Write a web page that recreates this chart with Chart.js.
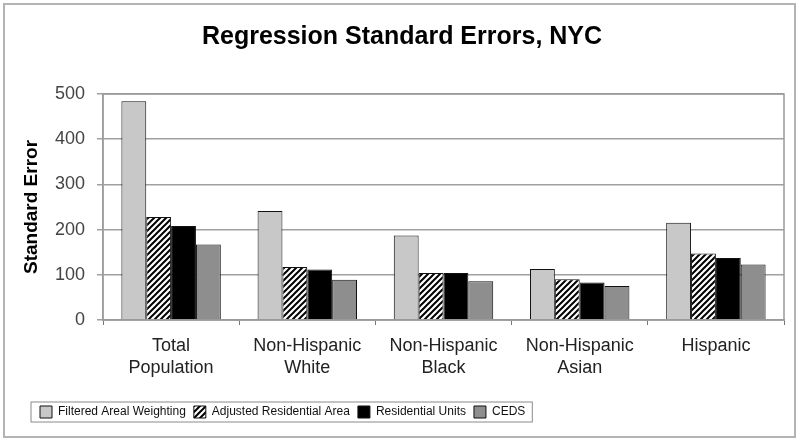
<!DOCTYPE html>
<html lang="en">
<head>
    <meta charset="UTF-8">
    <title>Regression Standard Errors, NYC</title>
    <script src="https://cdn.jsdelivr.net/npm/chart.js"></script>
    <style>
        html, body { margin: 0; padding: 0; background: #fff; }
        .chart-box { position: relative; width: 800px; height: 441px; }
    </style>
</head>
<body>
    <div class="chart-box">
        <canvas id="seChart" width="800" height="441"></canvas>
    </div>
    <script>
        // data
        const categories = [
            ['Total', 'Population'],
            ['Non-Hispanic', 'White'],
            ['Non-Hispanic', 'Black'],
            ['Non-Hispanic', 'Asian'],
            ['Hispanic']
        ];
        const seriesNames = ['Filtered Areal Weighting', 'Adjusted Residential Area', 'Residential Units', 'CEDS'];
        const filteredAreal = [484, 241, 187, 113, 215];
        const adjustedResidential = [228, 117, 104, 90, 147];
        const residentialUnits = [208, 112, 104, 83, 137];
        const cedsValues = [167, 89, 86, 75, 123];
        const yTicks = [0, 100, 200, 300, 400, 500];

        const FONT = '"Liberation Sans", Arial, sans-serif';

        // diagonal hatch for "Adjusted Residential Area"
        function makeHatch() {
            const c = document.createElement('canvas');
            c.width = 6; c.height = 6;
            const g = c.getContext('2d');
            g.fillStyle = '#fff';
            g.fillRect(0, 0, 6, 6);
            g.strokeStyle = '#000';
            g.lineWidth = 2;
            g.beginPath();
            g.moveTo(0, 6); g.lineTo(6, 0);
            g.moveTo(-1, 1); g.lineTo(1, -1);
            g.moveTo(5, 7); g.lineTo(7, 5);
            g.stroke();
            return g.createPattern(c, 'repeat');
        }
        const hatch = makeHatch();

        // outer frame, plot-area box and legend box
        const framePlugin = {
            id: 'frames',
            afterLayout(chart) {
                // legend sits a little further in than the y axis
                chart.legend.left += 12;
                chart.legend.right += 12;
            },
            beforeDraw(chart) {
                const ctx = chart.ctx;
                ctx.save();
                ctx.fillStyle = '#fff';
                ctx.fillRect(0, 0, chart.width, chart.height);
                ctx.strokeStyle = '#b4b4b4';
                ctx.lineWidth = 2;
                ctx.strokeRect(4, 4, chart.width - 9, chart.height - 8);
                ctx.restore();
            },
            afterDraw(chart) {
                const ctx = chart.ctx;
                const a = chart.chartArea;
                ctx.save();
                ctx.strokeStyle = '#9a9a9a';
                ctx.lineWidth = 1.5;
                ctx.strokeRect(a.left, a.top, a.right - a.left, a.bottom - a.top);
                const boxes = chart.legend.legendHitBoxes;
                if (boxes && boxes.length) {
                    const first = boxes[0], last = boxes[boxes.length - 1];
                    const x0 = first.left - 9;
                    const x1 = last.left + last.width + 7;
                    const y0 = first.top - 4;
                    ctx.strokeStyle = '#8a8a8a';
                    ctx.lineWidth = 1;
                    ctx.strokeRect(x0, y0, x1 - x0, first.height + 8);
                }
                ctx.restore();
            }
        };

        const ctx = document.getElementById('seChart').getContext('2d');
        new Chart(ctx, {
            type: 'bar',
            data: {
                labels: categories,
                datasets: [
                    { label: seriesNames[0], data: filteredAreal, backgroundColor: '#c8c8c8' },
                    { label: seriesNames[1], data: adjustedResidential, backgroundColor: hatch },
                    { label: seriesNames[2], data: residentialUnits, backgroundColor: '#000' },
                    { label: seriesNames[3], data: cedsValues, backgroundColor: '#8e8e8e' }
                ].map(d => Object.assign(d, {
                    borderColor: '#111',
                    borderWidth: 1,
                    categoryPercentage: 0.73,
                    barPercentage: 1.0
                }))
            },
            options: {
                responsive: false,
                animation: false,
                layout: { padding: { left: 20, right: 16, top: 10, bottom: 13 } },
                plugins: {
                    title: {
                        display: true,
                        text: 'Regression Standard Errors, NYC',
                        color: '#000',
                        font: { family: FONT, size: 25, weight: 'bold' },
                        padding: { top: 12, bottom: 42 }
                    },
                    legend: {
                        position: 'bottom',
                        align: 'start',
                        labels: {
                            color: '#111',
                            font: { family: FONT, size: 12 },
                            boxWidth: 12,
                            boxHeight: 12,
                            padding: 8
                        }
                    },
                    tooltip: { enabled: false }
                },
                scales: {
                    x: {
                        afterFit(scale) { scale.height = 78; },
                        grid: { drawOnChartArea: false, drawTicks: true, tickLength: 5, offset: true, color: '#777' },
                        border: { color: '#9a9a9a', width: 1.5 },
                        ticks: {
                            color: '#222',
                            font: { family: FONT, size: 18, lineHeight: 1.22 },
                            padding: 10,
                            maxRotation: 0
                        }
                    },
                    y: {
                        min: 0,
                        max: 500,
                        afterBuildTicks(scale) { scale.ticks = yTicks.map(v => ({ value: v })); },
                        afterFit(scale) { scale.width = 83; },
                        grid: { color: '#a0a0a0', lineWidth: 1.5, tickLength: 6 },
                        border: { color: '#9a9a9a', width: 1.5 },
                        ticks: { color: '#444', font: { family: FONT, size: 18 }, padding: 12 },
                        title: {
                            display: true,
                            text: 'Standard Error',
                            color: '#000',
                            font: { family: FONT, size: 19, weight: 'bold' },
                            padding: { top: 0, bottom: 4 }
                        }
                    }
                }
            },
            plugins: [framePlugin]
        });
    </script>
</body>
</html>
